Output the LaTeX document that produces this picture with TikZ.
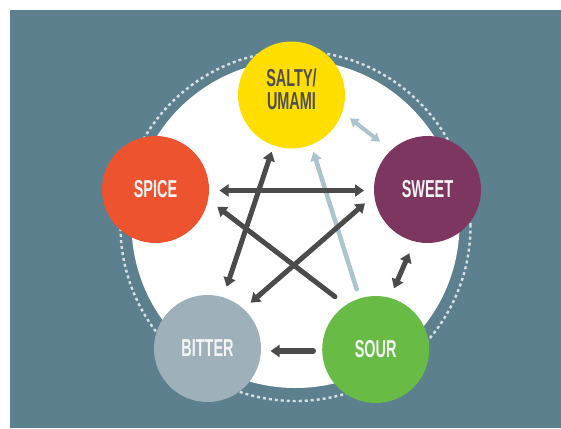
\documentclass[tikz,border=0pt]{standalone}
\usepackage{fontspec}
\newfontfamily\lblfont{Liberation Sans}[FakeStretch=0.59]
\usetikzlibrary{arrows.meta,calc}
\definecolor{bgc}{HTML}{5C808D}
\definecolor{saltyc}{HTML}{FFDE00}
\definecolor{spicec}{HTML}{EE532F}
\definecolor{sweetc}{HTML}{7D365F}
\definecolor{bitterc}{HTML}{9EB1BA}
\definecolor{sourc}{HTML}{68BB45}
\definecolor{arrdark}{HTML}{4B4B4B}
\definecolor{arrlight}{HTML}{ABC4CE}
\definecolor{dotc}{HTML}{D9E0E3}
\definecolor{txtlight}{HTML}{F4F4F4}
\definecolor{txtdark}{HTML}{4F4F4F}
\tikzset{
  taste/.style={circle, minimum size=107pt, inner sep=0pt},
  lbl/.style={font=\lblfont\bfseries\fontsize{24.5}{23.5}\selectfont, align=center, inner sep=0pt},
  darr/.style={draw=arrdark, line width=5pt,
    arrows={Triangle[width=12pt,length=9pt]-Triangle[width=12pt,length=9pt]}},
  sarr/.style={draw=arrdark, line width=5pt, line cap=round,
    arrows={-Triangle[width=12pt,length=9pt]}},
  ldarr/.style={draw=arrlight, line width=4pt,
    arrows={Triangle[width=10pt,length=8pt]-Triangle[width=10pt,length=8pt]}},
  lsarr/.style={draw=arrlight, line width=4.5pt, line cap=round,
    arrows={-Triangle[width=11pt,length=9pt]}},
  dotring/.style={draw=dotc, line width=2.4pt, dash pattern=on 3pt off 3pt}
}
\begin{document}
\begin{tikzpicture}[x=1pt,y=-1pt]
\useasboundingbox (0,0) rectangle (561,428);
\fill[bgc] (10,10) rectangle (561,428);
\draw[dotring] (295.5,226) circle[radius=175pt];
\fill[white] (295.5,224) circle[radius=164pt];

\node[taste, fill=saltyc, label={[lbl,text=txtdark,yshift=5.8pt]center:{SALTY/\\UMAMI}}] (salty) at (291.5,95) {};
\node[taste, fill=spicec, label={[lbl,text=txtlight]center:SPICE}] (spice) at (155.5,189.5) {};
\node[taste, fill=sweetc, label={[lbl,text=txtlight]center:SWEET}] (sweet) at (427.5,189.5) {};
\node[taste, fill=bitterc, label={[lbl,text=txtlight]center:BITTER}] (bitter) at (207.5,348.5) {};
\node[taste, fill=sourc, label={[lbl,text=txtlight]center:SOUR}] (sour) at (375.7,349.5) {};

\draw[lsarr] ($(sour.center)+(-19,-60.2)$) -- ($(salty.center)+(21.8,56.7)$);
\draw[ldarr] ($(salty.center)+(58.5,23.3)$) -- ($(sweet.center)+(-47.5,-47.8)$);

\draw[darr] ($(spice.center)+(64,1)$) -- ($(sweet.center)+(-63.5,1)$);
\draw[darr] ($(salty.center)+(-19.8,56.7)$) -- ($(bitter.center)+(19.2,-61.8)$);
\draw[sarr] ($(sour.center)+(-40.7,-52.8)$) -- ($(spice.center)+(61.8,17.2)$);
\draw[darr] ($(sweet.center)+(-62.5,13.8)$) -- ($(bitter.center)+(43.2,-45.8)$);
\draw[darr] ($(sweet.center)+(-18.2,63.8)$) -- ($(sour.center)+(18.3,-61.2)$);
\draw[sarr, line width=6pt] ($(sour.center)+(-62.7,1.5)$) -- ($(bitter.center)+(63,2.5)$);
\end{tikzpicture}
\end{document}
